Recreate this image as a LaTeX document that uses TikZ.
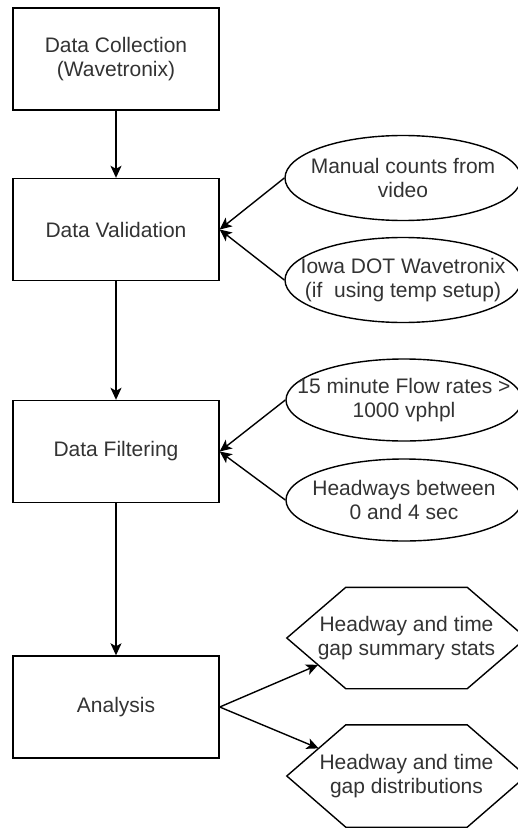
\documentclass[tikz,border=0pt]{standalone}
\usepackage{fontspec}
\setmainfont{Liberation Sans}
\usetikzlibrary{arrows.meta,shapes.geometric,calc}
\definecolor{txt}{HTML}{333333}
\begin{document}
\begin{tikzpicture}[x=1pt,y=-1pt,
  every node/.style={font=\fontsize{21}{23.5}\selectfont, text=txt, align=center, inner sep=0pt},
  box/.style={draw, line width=1.4pt, minimum width=206pt, minimum height=102pt},
  oval/.style={draw, ellipse, inner xsep=-30pt, inner ysep=0pt, line width=1.4pt, minimum width=236pt, minimum height=85pt},
  hexa/.style={minimum width=239pt, minimum height=101pt},
  arr/.style={line width=1.4pt, -{Stealth[length=12pt,width=11pt,inset=3pt]}}]
\useasboundingbox (0,0) rectangle (518,829);
\fill[white] (0,0) rectangle (518,829);

% main boxes
\node[box] (col) at (116,59) {Data Collection\\(Wavetronix)};
\node[box] (val) at (116,229.5) {Data Validation};
\node[box] (fil) at (116,451.5) {Data Filtering};
\node[box] (ana) at (116,707) {Analysis};

% ellipses
\node[oval] (man) at (403,178) {Manual counts from\\video};
\node[oval] (iowa) at (403,280) {Iowa DOT Wavetronix\\(if~ using temp setup)};
\node[oval, minimum height=82pt] (flow) at (404,400) {15 minute Flow rates >\\1000 vphpl};
\node[oval, minimum height=82pt] (head) at (404,500) {Headways between\\0 and 4 sec};

% hexagons
\node[hexa] (sum) at (406.5,638) {Headway and time\\gap summary stats};
\node[hexa, minimum height=102pt] (dist) at (406.5,776) {Headway and time\\gap distributions};
\foreach \h in {sum,dist}
  \draw[line width=1.4pt] (\h.west) -- ($(\h.north west)+(59,0)$) -- ($(\h.north east)+(-59,0)$)
    -- (\h.east) -- ($(\h.south east)+(-59,0)$) -- ($(\h.south west)+(59,0)$) -- cycle;

% connectors
\draw[arr] (col) -- (val);
\draw[arr] (val) -- (fil);
\draw[arr] (fil) -- (ana);
\draw[arr] (man.west) -- (val.east);
\draw[arr] (iowa.west) -- (val.east);
\draw[arr] (flow.west) -- (fil.east);
\draw[arr] (head.west) -- (fil.east);
\coordinate (sumbl) at ($(sum.south west)+(59,0)$);
\coordinate (sumin) at ($(sum.west)!0.53!(sumbl)$);
\coordinate (disttl) at ($(dist.north west)+(59,0)$);
\coordinate (distin) at ($(dist.west)!0.54!(disttl)$);
\draw[arr] (ana.east) -- (sumin);
\draw[arr] (ana.east) -- (distin);
\end{tikzpicture}
\end{document}
